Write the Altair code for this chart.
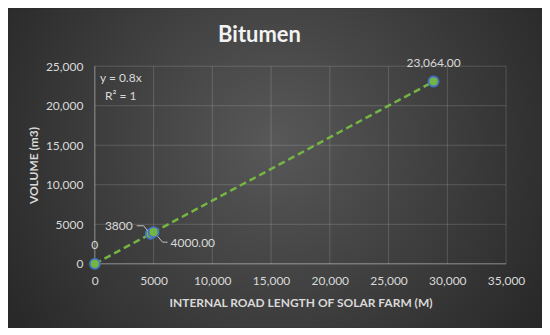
import altair as alt
import pandas as pd

# ---- data ----
road_length = [0, 4750, 5000, 28830]
volume = [0, 3800, 4000, 23064]
point_labels = ["0", "3800", "4000.00", "23,064.00"]
x_ticks = [0, 5000, 10000, 15000, 20000, 25000, 30000, 35000]
y_ticks = [0, 5000, 10000, 15000, 20000, 25000]
trend_eq = "y = 0.8x"
trend_r2 = "R² = 1"

points = pd.DataFrame({"x": road_length, "y": volume, "label": point_labels,
                       "i": list(range(len(road_length)))})
xgrid = pd.DataFrame({"v": x_ticks})
ygrid = pd.DataFrame({"v": y_ticks})

W, H = 412, 198
PL, PT, PR, PB = 87, 58, 36, 64
FONT = "Lato"
TXT = "#d9d9d9"
GREEN = "#74b544"
BLUE = "#4472c4"

xs = alt.Scale(domain=[0, 35000], nice=False)
ys = alt.Scale(domain=[0, 25000], nice=False)
fmt = "datum.value >= 10000 ? format(datum.value, ',') : format(datum.value, 'd')"

x_axis = alt.Axis(values=x_ticks, labelExpr=fmt, title="INTERNAL ROAD LENGTH OF SOLAR FARM (M)",
                  labelPadding=12, labelFlush=False, labelOverlap=False, labelBound=False,
                  titleY=39, titleBaseline="middle", zindex=1)
y_axis = alt.Axis(values=y_ticks, labelExpr=fmt, title="VOLUME (m3)",
                  labelPadding=12, labelFlush=False, labelOverlap=False, labelBound=False,
                  titleX=-61, titleY=H / 2, titleBaseline="middle", zindex=1)

bg = alt.Chart(pd.DataFrame({"k": [0]})).mark_rect(
    fill={"gradient": "radial", "x1": 0.5, "y1": 0.45, "r1": 0,
          "x2": 0.5, "y2": 0.45, "r2": 0.72,
          "stops": [{"offset": 0, "color": "#585858"},
                    {"offset": 1, "color": "#1e1e1e"}]}
).encode(x=alt.value(-PL), x2=alt.value(W + PR), y=alt.value(-PT), y2=alt.value(H + PB))

vgrid = alt.Chart(xgrid).mark_rule(color="white", strokeWidth=1).encode(
    x=alt.X("v:Q", scale=xs, axis=x_axis),
    y=alt.value(0), y2=alt.value(H),
    strokeOpacity=alt.condition("datum.v == 0", alt.value(0.45), alt.value(0.16)),
)

hgrid = alt.Chart(ygrid).mark_rule(color="white", strokeWidth=1).encode(
    y=alt.Y("v:Q", scale=ys, axis=y_axis),
    x=alt.value(0), x2=alt.value(W),
    strokeOpacity=alt.condition("datum.v == 0", alt.value(0.45), alt.value(0.16)),
)

base = alt.Chart(points).encode(
    x=alt.X("x:Q", scale=xs, axis=x_axis),
    y=alt.Y("y:Q", scale=ys, axis=y_axis),
)

line = base.mark_line(color=GREEN, strokeWidth=2.5, strokeDash=[7, 4]).encode(order="x:Q")
dots = base.mark_circle(size=100, color=GREEN, opacity=1, stroke=BLUE, strokeWidth=1.8)

lab_top = base.mark_text(font=FONT, fontSize=12, color=TXT, baseline="middle", dy=-19).encode(
    text="label:N").transform_filter("datum.i == 0 || datum.i == 3")
lab_left = base.mark_text(font=FONT, fontSize=12, color=TXT, baseline="middle", align="right",
                          dx=-18, dy=-8).encode(text="label:N").transform_filter("datum.i == 1")
lab_right = base.mark_text(font=FONT, fontSize=12, color=TXT, baseline="middle", align="left",
                           dx=17, dy=11).encode(text="label:N").transform_filter("datum.i == 2")

lead_kw = dict(color="#bfbfbf", strokeWidth=1)
lead_src = alt.Chart(points).encode(
    x=alt.X("x:Q", scale=xs, axis=x_axis), x2="x:Q",
    y=alt.Y("y:Q", scale=ys, axis=y_axis), y2="y:Q")
lead1a = lead_src.mark_rule(xOffset=-14, x2Offset=-7, yOffset=-8, y2Offset=-8, **lead_kw).transform_filter("datum.i == 1")
lead1b = lead_src.mark_rule(xOffset=-7, x2Offset=-3, yOffset=-8, y2Offset=-3, **lead_kw).transform_filter("datum.i == 1")
lead2a = lead_src.mark_rule(xOffset=4, x2Offset=9, yOffset=4, y2Offset=10, **lead_kw).transform_filter("datum.i == 2")
lead2b = lead_src.mark_rule(xOffset=9, x2Offset=14, yOffset=10, y2Offset=10, **lead_kw).transform_filter("datum.i == 2")

eq1 = alt.Chart(pd.DataFrame({"t": [trend_eq]})).mark_text(
    font=FONT, fontSize=12, color=TXT, align="center", baseline="middle", dx=26, dy=12
).encode(x=alt.datum(0, scale=xs, axis=x_axis), y=alt.datum(25000, scale=ys, axis=y_axis), text="t:N")
eq2 = alt.Chart(pd.DataFrame({"t": [trend_r2]})).mark_text(
    font=FONT, fontSize=12, color=TXT, align="center", baseline="middle", dx=26, dy=30
).encode(x=alt.datum(0, scale=xs, axis=x_axis), y=alt.datum(25000, scale=ys, axis=y_axis), text="t:N")

chart = alt.layer(
    bg, vgrid, hgrid, line, dots, lead1a, lead1b, lead2a, lead2b,
    lab_top, lab_left, lab_right, eq1, eq2
).properties(
    width=W, height=H,
    title=alt.TitleParams("Bitumen", font=FONT, fontSize=22, fontWeight="bold",
                          color="#f2f2f2", anchor="middle", frame="group",
                          dx=-41, offset=-56, baseline="alphabetic"),
    autosize=alt.AutoSizeParams(type="none"),
    padding={"left": PL, "top": PT, "right": PR, "bottom": PB},
).configure(background="#2a2a2a").configure_view(stroke=None).configure_axis(
    labelFont=FONT, labelFontSize=12, labelColor=TXT, ticks=False, domain=False, grid=False,
    titleFont=FONT, titleFontSize=12, titleFontWeight="bold", titleColor=TXT,
)

chart.save("out.html", embed_options={"renderer": "svg", "actions": False})
